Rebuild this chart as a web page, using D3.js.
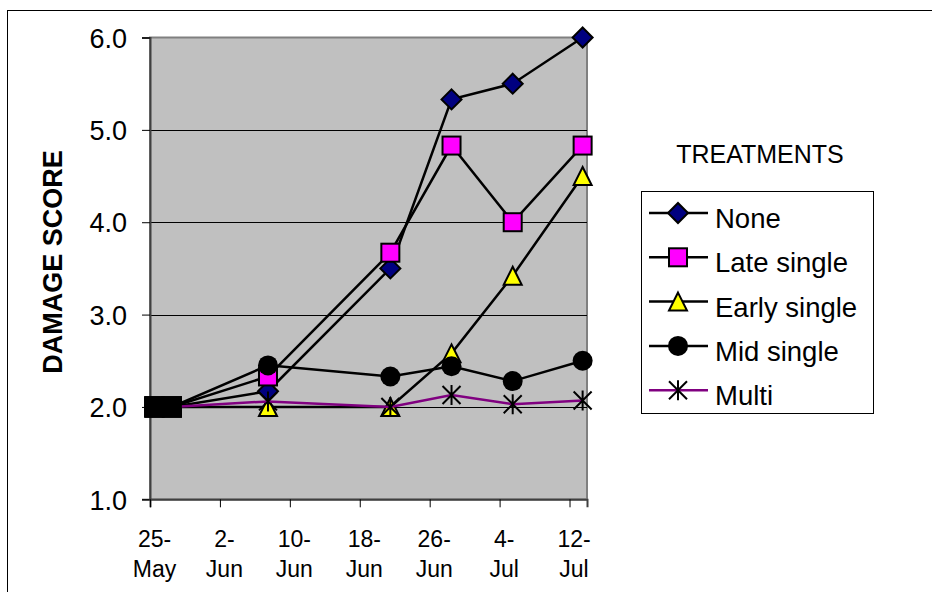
<!DOCTYPE html>
<html>
<head>
    <style>
        body { margin: 0; background: #fff; }
        svg text { font-family: "Liberation Sans", Arial, sans-serif; fill: #000; }
    </style>
</head>
<body>
<script src="https://d3js.org/d3.v7.min.js"></script>
<svg width="932" height="592"></svg>
<script>
    // sampling dates and scores
    var dates = ["2001-05-25", "2001-05-27", "2001-06-07", "2001-06-21", "2001-06-28", "2001-07-05", "2001-07-13"];
    var seriesNames = ["None", "Late single", "Early single", "Mid single", "Multi"];
    var none        = [2.0, 2.0, 2.17, 3.5, 5.33, 5.5, 6.0];
    var lateSingle  = [2.0, 2.0, 2.33, 3.67, 4.83, 4.0, 4.83];
    var earlySingle = [2.0, 2.0, 2.0, 2.0, 2.58, 3.42, 4.5];
    var midSingle   = [2.0, 2.0, 2.45, 2.33, 2.44, 2.28, 2.5];
    var multi       = [2.0, 2.0, 2.06, 2.0, 2.13, 2.03, 2.07];
    var yTicks = [1, 2, 3, 4, 5, 6];
    var xTicks = ["2001-05-25", "2001-06-02", "2001-06-10", "2001-06-18", "2001-06-26", "2001-07-04", "2001-07-12"];

    var parse = d3.timeParse("%Y-%m-%d");
    var svg = d3.select("svg");

    var styles = [
        {shape: "diamond", fill: "#000080", line: "#000"},
        {shape: "square", fill: "#ff00ff", line: "#000"},
        {shape: "triangle", fill: "#ffff00", line: "#000"},
        {shape: "circle", fill: "#000", line: "#000"},
        {shape: "star", fill: "none", line: "#800080"}
    ];
    var values = [none, lateSingle, earlySingle, midSingle, multi];
    var series = seriesNames.map(function(name, i) {
        return {
            name: name,
            style: styles[i],
            points: dates.map(function(d, j) {
                // points sit in the middle of their day slot
                return {date: d3.timeHour.offset(parse(d), 12), value: values[i][j], first: j < 2};
            })
        };
    });

    var plotLeft = 150, plotRight = 587, plotTop = 37.5, plotBottom = 499.3;
    var x = d3.scaleTime()
        .domain([parse("2001-05-25"), parse("2001-07-14")])
        .range([plotLeft, plotRight]);
    var y = d3.scaleLinear()
        .domain([1, 6])
        .range([plotBottom, plotTop]);

    // chart area border (only top/left visible)
    svg.append("rect")
        .attr("x", 7.5).attr("y", 10.5)
        .attr("width", 1000).attr("height", 700)
        .attr("fill", "none").attr("stroke", "#000");

    // plot area
    svg.append("rect")
        .attr("x", plotLeft).attr("y", plotTop)
        .attr("width", plotRight - plotLeft).attr("height", plotBottom - plotTop)
        .attr("fill", "#c0c0c0").attr("stroke", "#808080").attr("stroke-width", 2);

    // gridlines
    svg.append("g").selectAll("line")
        .data(yTicks.slice(1, -1))
        .enter().append("line")
        .attr("x1", plotLeft).attr("x2", plotRight)
        .attr("y1", function(d) { return Math.round(y(d)) + 0.5; })
        .attr("y2", function(d) { return Math.round(y(d)) + 0.5; })
        .attr("stroke", "#000").attr("stroke-width", 1);

    // y axis
    var yAxis = svg.append("g")
        .attr("transform", "translate(" + plotLeft + ",0)")
        .call(d3.axisLeft(y).tickValues(yTicks).tickSize(8).tickPadding(15).tickFormat(d3.format(".1f")));
    yAxis.select(".domain").attr("stroke", "#404040").attr("stroke-width", 2);
    yAxis.selectAll(".tick line").attr("stroke", "#000");
    yAxis.selectAll("text")
        .style("font-size", "27px")
        .attr("dy", "0.36em");

    // x axis
    var xAxis = svg.append("g")
        .attr("transform", "translate(0," + plotBottom + ")")
        .call(d3.axisBottom(x).tickValues(xTicks.map(parse)).tickSize(8).tickFormat(""));
    xAxis.select(".domain").attr("stroke", "#404040").attr("stroke-width", 2);
    xAxis.selectAll(".tick line").attr("stroke", "#000");
    var fmtDay = d3.timeFormat("%-d-"), fmtMon = d3.timeFormat("%b");
    xAxis.selectAll(".tick").each(function(d) {
        var t = d3.select(this).append("text")
            .attr("x", 4)
            .attr("text-anchor", "middle")
            .style("font-size", "23px");
        t.append("tspan").attr("x", 4).attr("y", 48).text(fmtDay(d));
        t.append("tspan").attr("x", 4).attr("y", 78).text(fmtMon(d));
    });

    // y axis title
    svg.append("text")
        .attr("transform", "translate(62,262) rotate(-90)")
        .attr("text-anchor", "middle")
        .style("font-size", "27px")
        .style("font-weight", "bold")
        .text("DAMAGE SCORE");

    function drawMarker(g, style, cx, cy) {
        var s = 10;
        if (style.shape === "diamond") {
            g.append("path")
                .attr("d", "M" + cx + "," + (cy - s) + "L" + (cx + s) + "," + cy + "L" + cx + "," + (cy + s) + "L" + (cx - s) + "," + cy + "Z")
                .attr("fill", style.fill).attr("stroke", "#000").attr("stroke-width", 2);
        } else if (style.shape === "square") {
            g.append("rect")
                .attr("x", cx - 9).attr("y", cy - 9).attr("width", 18).attr("height", 18)
                .attr("fill", style.fill).attr("stroke", "#000").attr("stroke-width", 2);
        } else if (style.shape === "triangle") {
            g.append("path")
                .attr("d", "M" + cx + "," + (cy - 9) + "L" + (cx + 9) + "," + (cy + 9) + "L" + (cx - 9) + "," + (cy + 9) + "Z")
                .attr("fill", style.fill).attr("stroke", "#000").attr("stroke-width", 2);
        } else if (style.shape === "circle") {
            g.append("circle")
                .attr("cx", cx).attr("cy", cy).attr("r", 10)
                .attr("fill", style.fill);
        } else {
            g.append("path")
                .attr("d", "M" + (cx - 9) + "," + (cy - 9) + "L" + (cx + 9) + "," + (cy + 9) +
                    "M" + (cx + 9) + "," + (cy - 9) + "L" + (cx - 9) + "," + (cy + 9) +
                    "M" + cx + "," + (cy - 10) + "L" + cx + "," + (cy + 10))
                .attr("fill", "none").attr("stroke", "#000").attr("stroke-width", 2);
        }
    }

    var line = d3.line()
        .x(function(d) { return x(d.date); })
        .y(function(d) { return y(d.value); });

    var plot = svg.append("g");
    series.forEach(function(s) {
        var g = plot.append("g");
        g.append("path")
            .datum(s.points)
            .attr("d", line)
            .attr("fill", "none")
            .attr("stroke", s.style.line)
            .attr("stroke-width", 2.5);
        s.points.forEach(function(p) {
            if (p.first) {
                // the two starting points show as solid black blocks
                g.append("rect")
                    .attr("x", x(p.date) - 10).attr("y", y(p.value) - 10.5)
                    .attr("width", 20).attr("height", 21)
                    .attr("fill", "#000");
            } else {
                drawMarker(g, s.style, x(p.date), y(p.value));
            }
        });
    });

    // legend
    svg.append("text")
        .attr("x", 760).attr("y", 163)
        .attr("text-anchor", "middle")
        .style("font-size", "25px")
        .text("TREATMENTS");
    svg.append("rect")
        .attr("x", 641.5).attr("y", 191.5)
        .attr("width", 232).attr("height", 222)
        .attr("fill", "#fff").attr("stroke", "#000");
    var legend = svg.append("g");
    series.forEach(function(s, i) {
        var ly = 213 + i * 44.3;
        var g = legend.append("g");
        g.append("line")
            .attr("x1", 649).attr("x2", 708)
            .attr("y1", ly).attr("y2", ly)
            .attr("stroke", s.style.line).attr("stroke-width", 2.5);
        drawMarker(g, s.style, 678, ly);
        g.append("text")
            .attr("x", 715).attr("y", ly + 15)
            .style("font-size", "27.5px")
            .text(s.name);
    });
</script>
</body>
</html>
